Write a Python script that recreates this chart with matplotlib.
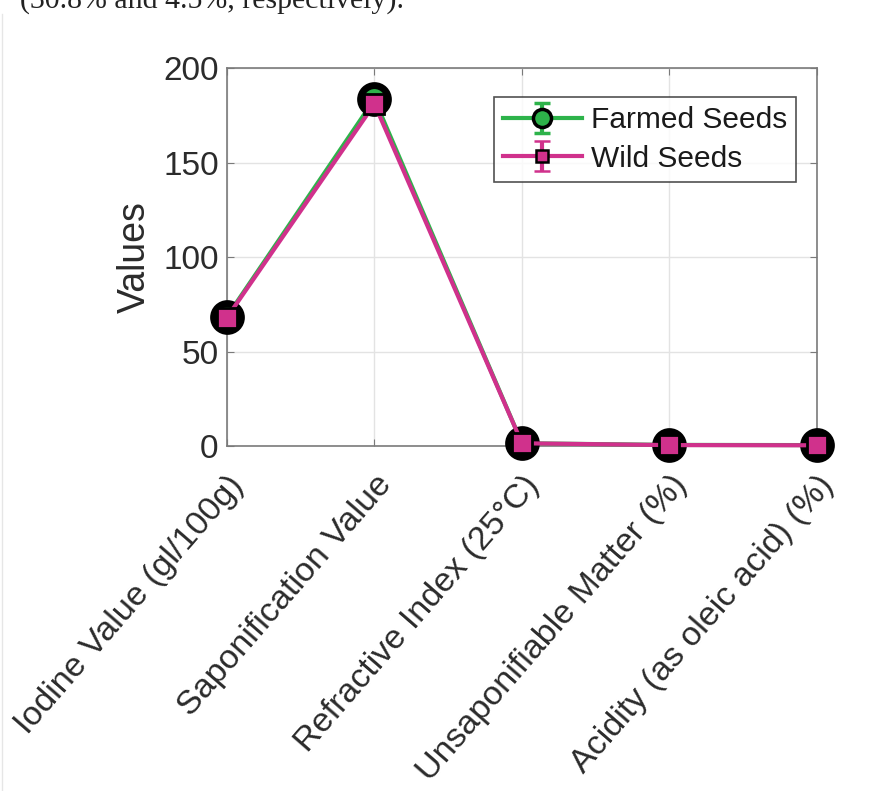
import matplotlib
matplotlib.use("Agg")
import matplotlib.pyplot as plt
from matplotlib.lines import Line2D
from matplotlib.transforms import ScaledTranslation
import numpy as np

categories = ["Iodine Value (gl/100g)", "Saponification Value", "Refractive Index (25°C)",
              "Unsaponifiable Matter (%)", "Acidity (as oleic acid) (%)"]
farmed = [68.5, 183.5, 1.46, 0.6, 0.5]
farmed_err = [1.2, 1.5, 0.01, 0.05, 0.05]
wild = [68.0, 181.0, 1.46, 0.5, 0.4]
wild_err = [1.0, 1.8, 0.01, 0.05, 0.05]
yticks = [0, 50, 100, 150, 200]

plt.rcParams['font.family'] = ['Liberation Sans', 'DejaVu Sans']

fig = plt.figure(figsize=(8.89, 7.91), dpi=100)
ax = fig.add_axes([0.2553, 0.4361, 0.6637, 0.4779])

x = np.arange(1, len(categories) + 1)
green = '#2db34a'
pink = '#d0318c'

c1 = ax.errorbar(x, farmed, yerr=farmed_err, color=green, lw=3, marker='o', ms=20,
                 mfc=green, mec='black', mew=5, capsize=7, capthick=3, elinewidth=3,
                 zorder=3)
c2 = ax.errorbar(x, wild, yerr=wild_err, color=pink, lw=3, marker='s', ms=14,
                 mfc=pink, mec='black', mew=2, capsize=7, capthick=3, elinewidth=3,
                 zorder=4)
for c in (c1, c2):
    for a in c.get_children():
        a.set_clip_on(False)

# legend proxies (no data drawn)
h1 = ax.errorbar([np.nan], [np.nan], yerr=[1], color=green, lw=3, marker='o', ms=13,
                 mfc=green, mec='black', mew=2.5, capsize=6, capthick=3, elinewidth=3,
                 label='Farmed Seeds')
h2 = ax.errorbar([np.nan], [np.nan], yerr=[1], color=pink, lw=3, marker='s', ms=9,
                 mfc=pink, mec='black', mew=1.8, capsize=6, capthick=3, elinewidth=3,
                 label='Wild Seeds')

ax.set_xlim(1, 5)
ax.set_ylim(0, 200)
ax.set_yticks(yticks)
ax.set_xticks(x)
ax.set_xticklabels(categories, rotation=49, ha='right', va='top', rotation_mode='anchor',
                   fontsize=24.5, color='#2b2b2b')
offset = ScaledTranslation(0.21, 0, fig.dpi_scale_trans)
for lab in ax.get_xticklabels():
    lab.set_transform(lab.get_transform() + offset)
ax.tick_params(axis='y', labelsize=24, labelcolor='#2b2b2b', pad=6)
ax.tick_params(direction='in', length=5, color='#7a7a7a', top=True, right=True)
ax.tick_params(axis='x', pad=17)
ax.grid(True, color='#e3e3e3', lw=1)
ax.set_axisbelow(True)
for s in ax.spines.values():
    s.set_color('#7a7a7a')
    s.set_linewidth(1.2)
ax.set_ylabel('Values', fontsize=27, color='#2b2b2b')
ax.yaxis.set_label_coords(-0.125, 0.5)

leg = ax.legend(handles=[h1, h2], loc='upper right', bbox_to_anchor=(0.9644, 0.923),
                fontsize=21.5, frameon=True, fancybox=False, edgecolor='#262626',
                handlelength=2.65, handletextpad=0.3, borderpad=0.3,
                labelspacing=0.35, borderaxespad=0)
leg.get_frame().set_linewidth(1.2)
for t in leg.get_texts():
    t.set_color('#1a1a1a')

fig.text(20 / 889, 1 - 8 / 791, "(30.8% and 4.5%, respectively).", fontsize=21.5,
         family=['Liberation Serif', 'DejaVu Serif'], color='#222222',
         va='baseline', ha='left')
fig.add_artist(Line2D([1.5 / 889, 1.5 / 889], [0, 1 - 14 / 791],
                      transform=fig.transFigure, color='#e6e6e6', lw=1))

fig.savefig('out.png', dpi=100)
